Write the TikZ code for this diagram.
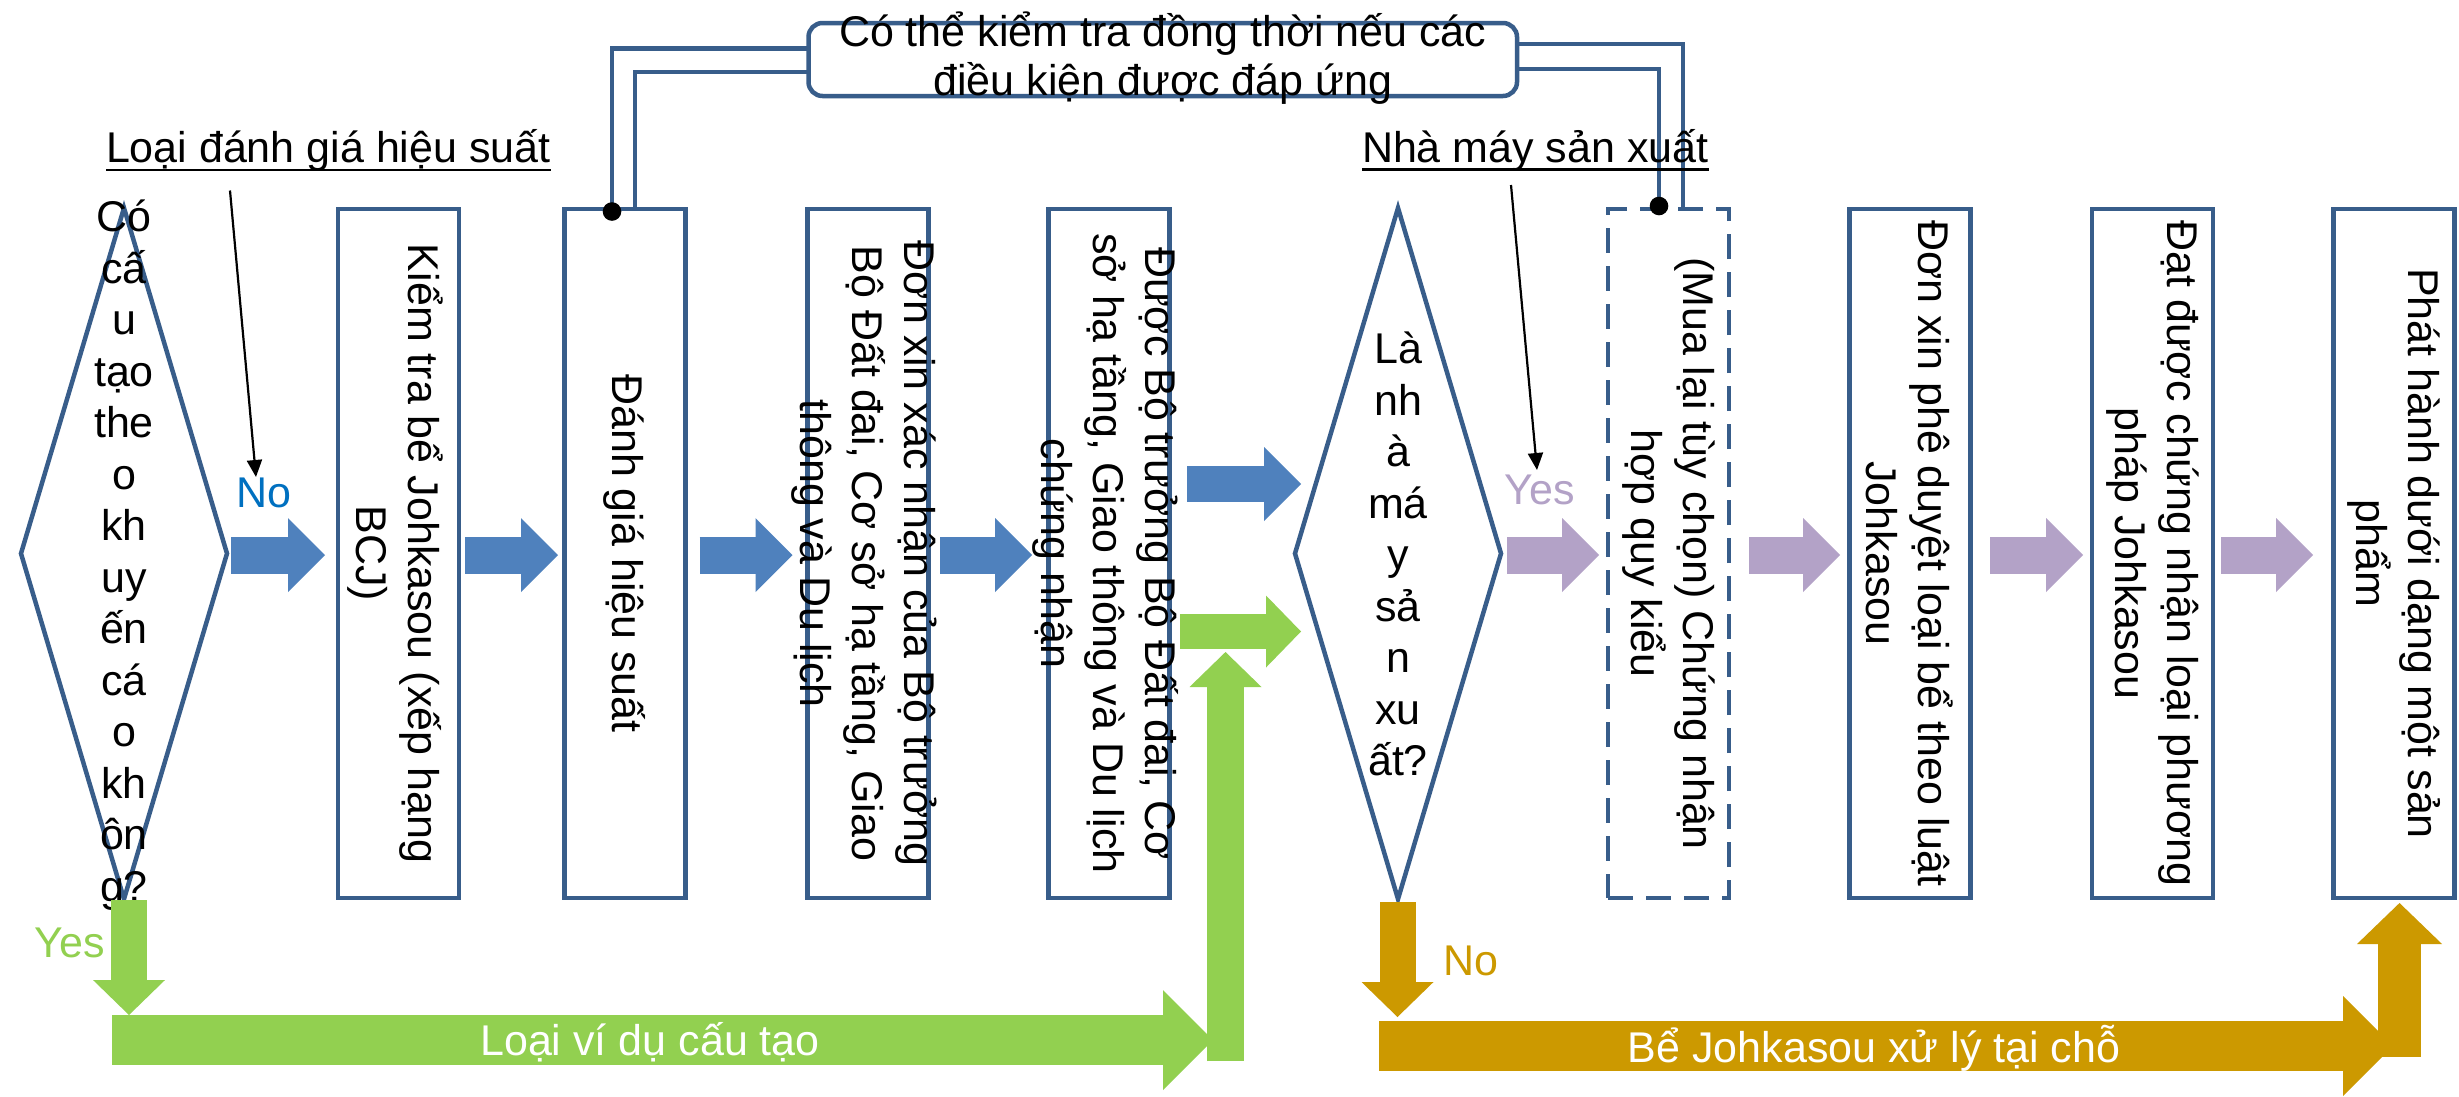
\documentclass[tikz,border=0pt]{standalone}
\usepackage{fontspec}
\setmainfont{Liberation Sans}
\usetikzlibrary{arrows.meta,shapes.geometric,calc}

\definecolor{edge}{RGB}{56,93,138}
\definecolor{flowblue}{RGB}{79,129,189}
\definecolor{flowgreen}{RGB}{146,208,80}
\definecolor{flowgold}{RGB}{204,153,0}
\definecolor{flowpurple}{RGB}{179,162,199}
\definecolor{answerblue}{RGB}{0,112,192}

\tikzset{
  every node/.style={inner sep=0pt, outer sep=0pt, font=\fontsize{43}{52}\selectfont},
  stepbox/.style={draw=edge, line width=4.5pt, rectangle, minimum width=121pt, minimum height=689pt},
  optbox/.style={stepbox, dash pattern=on 25pt off 13pt},
  choice/.style={draw=edge, line width=4.5pt, diamond, minimum width=206pt, minimum height=691pt},
  boxtext/.style={rotate=-90, align=center},
  choicetext/.style={align=center, font=\fontsize{43}{51.5}\selectfont},
  link/.style={draw=edge, line width=4.2pt},
  pointer/.style={line width=2.2pt, -{Triangle[length=17pt,width=15pt]}},
  flow/.style={line width=37pt, -{Triangle[length=37pt,width=74pt,line width=0pt 0 0]}},
  flowthin/.style={line width=36pt, -{Triangle[length=35pt,width=72pt,line width=0pt 0 0]}},
  flowwide/.style={line width=50pt, -{Triangle[length=50pt,width=100pt,line width=0pt 0 0]}},
  flowup/.style={line width=43pt, -{Triangle[length=41pt,width=85pt,line width=0pt 0 0]}},
  underline/.style={line width=2.6pt},
}

\begin{document}
\begin{tikzpicture}[x=1pt,y=-1pt]
\useasboundingbox (0,0) rectangle (2459,1096);
\fill[white] (0,0) rectangle (2459,1096);

% decisions and steps
\node[choice]  (d1) at (124,553.5) {};
\node[stepbox] (b1) at (398.5,553.5) {};
\node[stepbox] (b2) at (625,553.5) {};
\node[stepbox] (b3) at (868,553.5) {};
\node[stepbox] (b4) at (1109,553.5) {};
\node[choice]  (d2) at (1398,553.5) {};
\node[optbox]  (b5) at (1668.5,553.5) {};
\node[stepbox] (b6) at (1910,553.5) {};
\node[stepbox] (b7) at (2152.5,553.5) {};
\node[stepbox] (b8) at (2394,553.5) {};

% note box on top and its links to the two steps
\node[draw=edge, line width=4.5pt, rounded corners=14pt, minimum width=708.5pt, minimum height=73pt] (note) at (1162.75,59.5) {};
\coordinate (jl) at (b2.north -| 612,0);
\coordinate (jr) at (b5.north -| 1659,0);
\draw[link] (note.west |- 0,48.5) -| (jl);
\draw[link] (note.west |- 0,72) -| (b2.north -| 635.3,0);
\draw[link] (note.east |- 0,44) -| (b5.north -| 1683,0);
\draw[link] (note.east |- 0,69) -| (jr);
\fill ([yshift=-2.5pt]jl) circle (9.3pt);
\fill ([yshift=3pt]jr) circle (9.3pt);
\node[align=center, font=\fontsize{43}{48.5}\selectfont] (notetext) at (1162.75,58)
  {Có thể kiểm tra đồng thời nếu các\\điều kiện được đáp ứng};

% texts of decisions and steps
\node[choicetext] (d1t) at (124,555) {Có\\cấ\\u\\tạo\\the\\o\\kh\\uy\\ến\\cá\\o\\kh\\ôn\\g?};
\node[choicetext] (d2t) at (1398,554) {Là\\nh\\à\\má\\y\\sả\\n\\xu\\ất?};
\node[boxtext] (t1) at (395,553.5) {Kiểm tra bể Johkasou (xếp hạng\\BCJ)};
\node[boxtext] (t2) at (b2.center) {Đánh giá hiệu suất};
\node[boxtext] (t3) at (864,553.5) {Đơn xin xác nhận của Bộ trưởng\\Bộ Đất đai, Cơ sở hạ tầng, Giao\\thông và Du lịch};
\node[boxtext] (t4) at (1106,553.5) {Được Bộ trưởng Bộ Đất đai, Cơ\\sở hạ tầng, Giao thông và Du lịch\\chứng nhận};
\node[boxtext] (t5) at (b5.center) {(Mua lại tùy chọn) Chứng nhận\\hợp quy kiểu};
\node[boxtext] (t6) at (b6.center) {Đơn xin phê duyệt loại bể theo luật\\Johkasou};
\node[boxtext] (t7) at (b7.center) {Đạt được chứng nhận loại phương\\pháp Johkasou};
\node[boxtext] (t8) at (b8.center) {Phát hành dưới dạng một sản\\phẩm};

% performance-evaluation route
\draw[flow, flowblue] ([shift={(4,1.5)}]d1.east) -- ([shift={(-13,1.5)}]b1.west);
\draw[flow, flowblue] ([shift={(6,1.5)}]b1.east) -- ([shift={(-6.5,1.5)}]b2.west);
\draw[flow, flowblue] ([shift={(14,1.5)}]b2.east) -- ([shift={(-15,1.5)}]b3.west);
\draw[flow, flowblue] ([shift={(11.5,1.5)}]b3.east) -- ([shift={(-16.5,1.5)}]b4.west);
\draw[flow, flowblue, line width=36pt] ([shift={(17.5,-69.5)}]b4.east) -- ([shift={(6,-69.5)}]d2.west);

% construction-example route
\coordinate (gs) at (112,1040);
\coordinate (ge) at (1213,1040);
\coordinate (gu) at (1225.5,1061);
\draw[flowthin, flowgreen] ([shift={(5,1)}]d1.south) -- ([shift={(17,-25)}]gs);
\draw[flowwide, flowgreen] (gs) -- (ge);
\draw[flowthin, flowgreen, line width=37pt] (gu) -- (gu |- 0,652);
\draw[flowthin, flowgreen, line width=35.5pt] ([shift={(10.5,78)}]b4.east) -- ([shift={(6,78)}]d2.west);
\node[text=white, anchor=base] (glabel) at (650,1055) {Loại ví dụ cấu tạo};

% factory route
\draw[flow, flowpurple] ([shift={(6,1.5)}]d2.east) -- ([shift={(-9,1.5)}]b5.west);
\draw[flow, flowpurple] ([shift={(20,1.5)}]b5.east) -- ([shift={(-9.5,1.5)}]b6.west);
\draw[flow, flowpurple] ([shift={(19.5,1.5)}]b6.east) -- ([shift={(-9,1.5)}]b7.west);
\draw[flow, flowpurple] ([shift={(8,1.5)}]b7.east) -- ([shift={(-20.5,1.5)}]b8.west);

% on-site route
\coordinate (os) at (1379,1046);
\coordinate (oe) at (2393,1046);
\coordinate (ou) at (2399.5,1057);
\draw[flowthin, flowgold] ([shift={(-0.5,3)}]d2.south) -- ([shift={(18.5,-29)}]os);
\draw[flowwide, flowgold] (os) -- (oe);
\draw[flowup, flowgold] (ou) -- ([shift={(5.5,5)}]b8.south);
\node[text=white, anchor=base] (olabel) at (1874,1062) {Bể Johkasou xử lý tại chỗ};

% answers
\node[text=answerblue, anchor=base] (no1) at (264,507) {No};
\node[text=flowgreen, anchor=base] (yes1) at (70,957) {Yes};
\node[text=flowpurple, anchor=base] (yes2) at (1540,504) {Yes};
\node[text=flowgold, anchor=base] (no2) at (1471,975) {No};

% callouts
\node[anchor=base west] (ann1) at (106,162) {Loại đánh giá hiệu suất};
\draw[underline] ([yshift=-8pt]ann1.base west) -- ([yshift=-8pt]ann1.base east);
\draw[pointer] ([shift={(124,28.5)}]ann1.base west) -- ([shift={(150,315)}]ann1.base west);
\node[anchor=base west] (ann2) at (1362,162) {Nhà máy sản xuất};
\draw[underline] ([yshift=-7.5pt]ann2.base west) -- ([yshift=-7.5pt]ann2.base east);
\draw[pointer] ([shift={(149,23)}]ann2.base west) -- ([shift={(175,308)}]ann2.base west);
\end{tikzpicture}
\end{document}
